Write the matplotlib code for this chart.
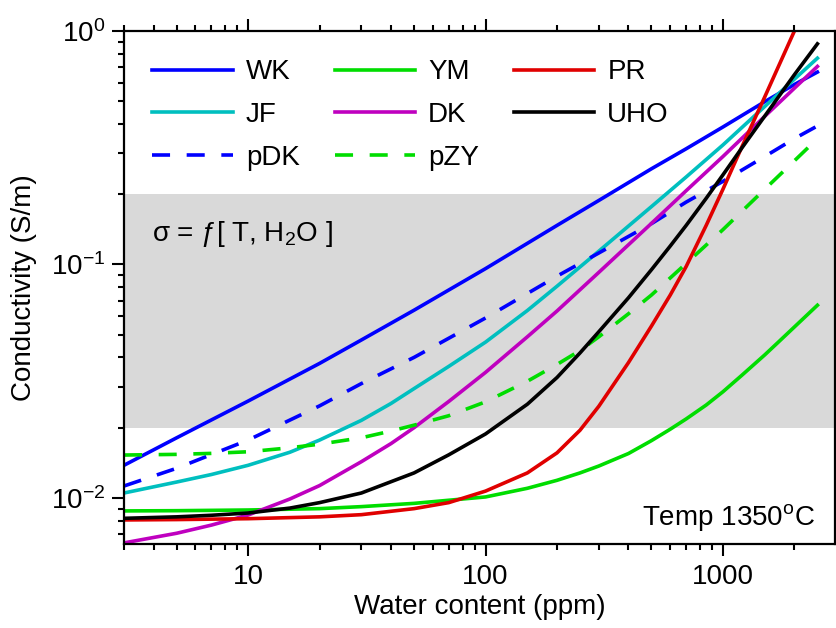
import matplotlib
matplotlib.use("Agg")
import matplotlib.pyplot as plt
from matplotlib.ticker import LogLocator, FixedLocator, FixedFormatter, NullFormatter

plt.rcParams['font.family'] = ['Liberation Sans', 'DejaVu Sans']
plt.rcParams['mathtext.fontset'] = 'custom'
plt.rcParams['mathtext.rm'] = 'Liberation Sans'
plt.rcParams['mathtext.it'] = 'Liberation Sans:italic'
plt.rcParams['mathtext.bf'] = 'Liberation Sans:bold'

# ---- data ----
wk_x = [3, 5, 10, 20, 30, 50, 100, 200, 300, 500, 700, 1000, 1500, 2000, 2500]
wk   = [0.0138, 0.0181, 0.0260, 0.0377, 0.0475, 0.0637, 0.096, 0.147, 0.188, 0.257, 0.313, 0.388, 0.498, 0.590, 0.667]

jf_x = [3, 5, 7, 10, 15, 20, 30, 40, 50, 70, 100, 150, 200, 300, 500, 700, 1000, 1500, 2000, 2500]
jf   = [0.0105, 0.0117, 0.0126, 0.0138, 0.0157, 0.0177, 0.0215, 0.0254, 0.0294, 0.0366, 0.0465, 0.0635,
        0.0807, 0.114, 0.177, 0.237, 0.325, 0.475, 0.622, 0.765]

dk_x = [3, 5, 7, 10, 15, 20, 30, 40, 50, 70, 100, 150, 200, 300, 500, 700, 1000, 1500, 2000, 2500]
dk   = [0.00642, 0.00706, 0.00765, 0.00845, 0.0099, 0.0113, 0.0143, 0.0171, 0.0200, 0.0259, 0.0345, 0.0490,
        0.0632, 0.0925, 0.150, 0.207, 0.290, 0.431, 0.569, 0.705]

ym_x = [3, 5, 10, 20, 30, 50, 100, 150, 200, 250, 300, 400, 500, 600, 700, 850, 1000, 1200, 1500, 1700, 2000, 2500]
ym   = [0.0088, 0.00882, 0.00888, 0.0090, 0.00918, 0.00948, 0.0101, 0.0110, 0.0119, 0.0128, 0.0137, 0.0155,
        0.0176, 0.0197, 0.0218, 0.0250, 0.0285, 0.0335, 0.0410, 0.0462, 0.0540, 0.0669]

pr_x = [3, 5, 10, 20, 30, 50, 70, 100, 150, 200, 250, 300, 400, 500, 600, 700, 850, 1000, 1200, 1500, 2000]
pr   = [0.00805, 0.00808, 0.00815, 0.0083, 0.00848, 0.0090, 0.00955, 0.0107, 0.0128, 0.0156, 0.0195, 0.0247,
        0.0380, 0.0545, 0.0740, 0.0980, 0.147, 0.210, 0.318, 0.522, 1.0]

uho_x = [3, 5, 7, 10, 15, 20, 30, 50, 70, 100, 150, 200, 250, 300, 400, 500, 600, 700, 850, 1000, 1200, 1500,
         1700, 2000, 2500]
uho   = [0.00818, 0.00830, 0.00843, 0.00862, 0.00905, 0.00955, 0.01050, 0.0128, 0.0153, 0.0188, 0.0252, 0.0328,
         0.0418, 0.0515, 0.0720, 0.0950, 0.120, 0.147, 0.192, 0.242, 0.315, 0.432, 0.516, 0.650, 0.881]

pdk_x = [3, 5, 10, 20, 30, 50, 100, 200, 300, 500, 700, 1000, 1500, 2000, 2500]
pdk   = [0.01125, 0.0134, 0.0177, 0.0248, 0.0309, 0.0400, 0.0590, 0.0891, 0.112, 0.1496, 0.185, 0.227, 0.290, 0.346, 0.392]

pzy_x = [3, 5, 7, 10, 15, 20, 30, 40, 50, 70, 100, 150, 200, 250, 300, 400, 500, 700, 1000, 1500, 2000, 2500]
pzy   = [0.01527, 0.01537, 0.01552, 0.01577, 0.0164, 0.0170, 0.0181, 0.01935, 0.0205, 0.0225, 0.0258, 0.0316,
         0.0373, 0.0428, 0.0490, 0.0615, 0.0740, 0.1010, 0.141, 0.210, 0.278, 0.346]

band = (0.02, 0.2)
xtick_vals = [10, 100, 1000]
xtick_labels = ['10', '100', '1000']

FS = 20
fig = plt.figure(figsize=(8.37, 6.28), dpi=100)
ax = fig.add_axes([124/837, 84/628, 711/837, 513/628])

ax.axhspan(band[0], band[1], color='#d9d9d9', lw=0, zorder=0)

LW = 2.6
dash = (0, (5.0, 4.6))
ax.plot(wk_x, wk, color='#0000ff', lw=LW, label='WK')
ax.plot(jf_x, jf, color='#00bfbf', lw=LW, label='JF')
ax.plot(pdk_x, pdk, color='#0000ff', lw=LW, ls=dash, label='pDK')
ax.plot(ym_x, ym, color='#00dd00', lw=LW, label='YM')
ax.plot(dk_x, dk, color='#bf00bf', lw=LW, label='DK')
ax.plot(pzy_x, pzy, color='#00dd00', lw=LW, ls=dash, label='pZY')
ax.plot(pr_x, pr, color='#e00000', lw=LW, label='PR')
ax.plot(uho_x, uho, color='#000000', lw=LW, label='UHO')

ax.set_xscale('log')
ax.set_yscale('log')
ax.set_xlim(3, 2965)
ax.set_ylim(0.00635, 1.0)

ax.xaxis.set_major_locator(FixedLocator(xtick_vals))
ax.xaxis.set_major_formatter(FixedFormatter(xtick_labels))
ax.xaxis.set_minor_locator(LogLocator(base=10, subs=range(2, 10)))
ax.xaxis.set_minor_formatter(NullFormatter())
ax.yaxis.set_major_locator(LogLocator(base=10, numticks=10))
ax.yaxis.set_minor_locator(LogLocator(base=10, subs=range(2, 10), numticks=10))
ax.yaxis.set_minor_formatter(NullFormatter())

ax.tick_params(which='both', direction='out', top=True, right=False, width=1.5,
               labelsize=FS)
ax.tick_params(axis='x', which='both', pad=6)
ax.tick_params(axis='y', which='both', pad=5)
ax.tick_params(which='major', length=8.5)
ax.tick_params(which='minor', length=4)
for s in ax.spines.values():
    s.set_linewidth(1.6)

ax.set_xlabel('Water content (ppm)', fontsize=FS, labelpad=3)
ax.set_ylabel('Conductivity (S/m)', fontsize=FS, labelpad=10)

leg = ax.legend(ncol=3, loc='upper left', bbox_to_anchor=(0.0, 1.0), frameon=False,
                fontsize=FS, handlelength=2.9, handletextpad=0.47, columnspacing=1.25,
                labelspacing=0.6, borderaxespad=0.72, borderpad=0.3)

ax.text(0.039, 0.604, r'σ = ƒ[ T, H$_2$O ]', transform=ax.transAxes, fontsize=FS,
        ha='left', va='center')
ax.text(0.972, 0.037, r'Temp 1350$^{\mathrm{o}}$C', transform=ax.transAxes, fontsize=FS,
        ha='right', va='baseline')

fig.savefig('out.png', dpi=100)
